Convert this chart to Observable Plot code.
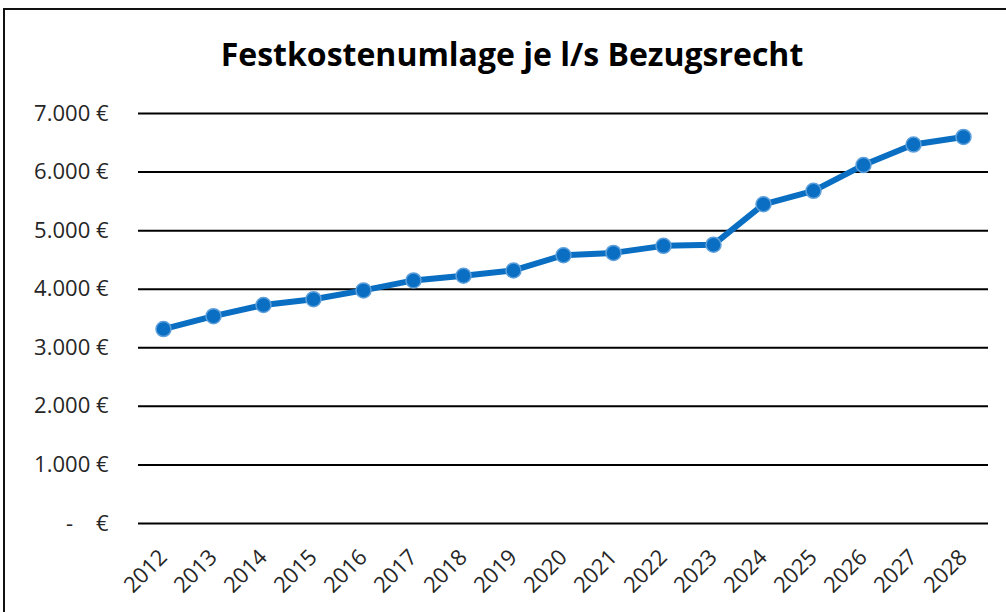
<!DOCTYPE html>
<html><head><meta charset="utf-8">
<script src="https://cdn.jsdelivr.net/npm/d3@7"></script>
<script src="https://cdn.jsdelivr.net/npm/@observablehq/plot@0.6"></script>
<style>
html,body{margin:0;padding:0;background:#fff;}
body{width:1006px;height:612px;overflow:hidden;position:relative;font-family:"Open Sans",sans-serif;}
#frame{position:absolute;left:3px;top:8px;width:1100px;height:700px;border:2px solid #111;box-sizing:border-box;}
#title{position:absolute;left:9px;width:1006px;top:38px;line-height:32px;text-align:center;font-weight:bold;font-size:32px;color:#000;}
#chart{position:absolute;left:0;top:90px;}
</style>
</head><body>
<div id="frame"></div>
<div id="title">Festkostenumlage je l/s Bezugsrecht</div>
<div id="chart"></div>
<script>
const years = ["2012","2013","2014","2015","2016","2017","2018","2019","2020","2021","2022","2023","2024","2025","2026","2027","2028"];
const values = [3320,3540,3730,3830,3980,4150,4230,4320,4580,4620,4740,4760,5450,5680,6120,6470,6600];
const yTicks = [0,1000,2000,3000,4000,5000,6000,7000];
const yTickLabels = ["-\u00a0\u00a0\u00a0\u00a0€","1.000\u00a0€","2.000\u00a0€","3.000\u00a0€","4.000\u00a0€","5.000\u00a0€","6.000\u00a0€","7.000\u00a0€"];

const data = years.map((y, i) => ({year: y, value: values[i]}));
const blue = "#0A6FC2";

const chart = Plot.plot({
  width: 1006,
  height: 522,
  marginTop: 23,
  marginBottom: 89,
  marginLeft: 138,
  marginRight: 18,
  style: {fontFamily: "Open Sans, sans-serif", fontSize: "22px", color: "#262626", background: "transparent", overflow: "visible"},
  x: {type: "point", domain: years, padding: 0.5, label: null},
  y: {domain: [0, 7000], label: null},
  marks: [
    Plot.ruleY(yTicks, {stroke: "#000", strokeWidth: 2}),
    Plot.axisY({ticks: yTicks, tickSize: 0, tickPadding: 30, tickFormat: d => yTickLabels[yTicks.indexOf(d)], label: null}),
    Plot.axisX({tickSize: 0, tickPadding: 30, tickRotate: -45, label: null}),
    Plot.line(data, {x: "year", y: "value", stroke: blue, strokeWidth: 6}),
    Plot.dot(data, {x: "year", y: "value", r: 7.5, fill: blue, stroke: "#5D9FDB", strokeWidth: 1.5})
  ]
});
document.getElementById("chart").appendChild(chart);
</script>
</body></html>
